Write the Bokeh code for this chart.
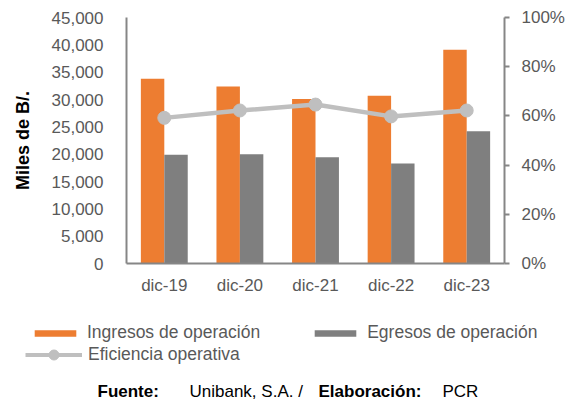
from bokeh.plotting import figure
from bokeh.layouts import column
from bokeh.models import (Range1d, FactorRange, LinearAxis, NumeralTickFormatter, FixedTicker,
                          Legend, LegendItem, Label, ColumnDataSource)
from bokeh.transform import dodge
from bokeh.embed import file_html
from bokeh.resources import INLINE

categories = ["dic-19", "dic-20", "dic-21", "dic-22", "dic-23"]
ingresos = [33800, 32400, 30100, 30700, 39100]
egresos = [19900, 20000, 19450, 18300, 24200]
eficiencia = [0.592, 0.622, 0.646, 0.598, 0.622]
left_ticks = [0, 5000, 10000, 15000, 20000, 25000, 30000, 35000, 40000, 45000]
right_ticks = [0, 0.2, 0.4, 0.6, 0.8, 1.0]

FONT = "Liberation Sans"
TXT = "#595959"
AX = "#868686"
ORANGE = "#ED7D31"
GRAY = "#7F7F7F"
LGRAY = "#BFBFBF"
TICK_FS = "17px"

src = ColumnDataSource(dict(cat=categories, ing=ingresos, egr=egresos, ef=eficiencia))
xr = FactorRange(*categories, range_padding=0)
yr = Range1d(0, 45000)


def draw_series(fig, visible=True):
    a = fig.vbar(x=dodge("cat", -0.155, range=xr), top="ing", width=0.31, source=src,
                 fill_color=ORANGE, line_color=None, visible=visible)
    b = fig.vbar(x=dodge("cat", 0.155, range=xr), top="egr", width=0.31, source=src,
                 fill_color=GRAY, line_color=None, visible=visible)
    c = fig.line(x="cat", y="ef", source=src, y_range_name="pct", line_color=LGRAY,
                 line_width=4.5 if visible else 4, visible=visible)
    d = fig.scatter(x="cat", y="ef", source=src, y_range_name="pct", size=13,
                    fill_color=LGRAY, line_color=LGRAY, visible=visible)
    return a, b, c, d


p = figure(width=575, height=300, x_range=xr, y_range=yr, output_backend="svg",
           toolbar_location=None, min_border_left=126, min_border_right=71,
           min_border_top=17, min_border_bottom=37)
p.extra_y_ranges = {"pct": Range1d(0, 1)}
p.outline_line_color = None
p.xgrid.visible = False
p.ygrid.visible = False
p.frame_align = False
draw_series(p)

for ax in (p.xaxis[0], p.yaxis[0]):
    ax.axis_line_color = AX
    ax.axis_line_width = 2
    ax.major_tick_line_color = None
    ax.minor_tick_line_color = None
    ax.major_label_text_font = FONT
    ax.major_label_text_color = TXT
    ax.major_label_text_font_size = TICK_FS

p.xaxis[0].major_label_standoff = 6
p.yaxis[0].ticker = FixedTicker(ticks=left_ticks)
p.yaxis[0].formatter = NumeralTickFormatter(format="0,0")
p.yaxis[0].major_label_standoff = 17
p.yaxis[0].axis_label = "Miles de B/."
p.yaxis[0].axis_label_text_font = FONT
p.yaxis[0].axis_label_text_font_style = "bold"
p.yaxis[0].axis_label_text_color = "black"
p.yaxis[0].axis_label_text_font_size = "18px"
p.yaxis[0].axis_label_standoff = 16

ra = LinearAxis(y_range_name="pct", ticker=FixedTicker(ticks=right_ticks),
                formatter=NumeralTickFormatter(format="0%"))
ra.axis_line_color = AX
ra.axis_line_width = 2
ra.major_tick_line_color = AX
ra.major_tick_line_width = 2
ra.major_tick_out = 5
ra.major_tick_in = 0
ra.minor_tick_line_color = None
ra.major_label_text_font = FONT
ra.major_label_text_color = TXT
ra.major_label_text_font_size = TICK_FS
ra.major_label_standoff = 12
p.add_layout(ra, "right")

# legend + source panel (series drawn hidden, used only for legend glyphs)
q = figure(width=575, height=104, x_range=xr, y_range=yr, output_backend="svg",
           toolbar_location=None, x_axis_type=None, y_axis_type=None, min_border=0)
q.extra_y_ranges = {"pct": Range1d(0, 1)}
q.outline_line_color = None
q.xgrid.visible = False
q.ygrid.visible = False
q.frame_align = False
l_ing, l_egr, l_line, l_pt = draw_series(q, visible=False)

common = dict(label_text_font=FONT, label_text_color=TXT, label_text_font_size="17.5px",
              label_standoff=6, padding=0, margin=0,
              border_line_color=None, background_fill_alpha=0, label_height=20,
              inactive_fill_alpha=0)
leg1 = Legend(items=[LegendItem(label="Ingresos de operación", renderers=[l_ing]),
                     LegendItem(label="Egresos de operación", renderers=[l_egr])],
              location=(29, 61), orientation="horizontal", glyph_width=52, glyph_height=8,
              spacing=49, **common)
leg2 = Legend(items=[LegendItem(label="Eficiencia operativa", renderers=[l_line, l_pt])],
              location=(25, 37), orientation="horizontal", glyph_width=57, glyph_height=25,
              **common)
q.add_layout(leg1, "center")
q.add_layout(leg2, "center")

foot = [("Fuente:", 97, "bold"), ("Unibank, S.A. / ", 189, "normal"),
        ("Elaboración:", 318, "bold"), ("PCR", 442, "normal")]
for t, x, st in foot:
    q.add_layout(Label(x=x, y=13, x_units="screen", y_units="screen", text=t,
                       text_font=FONT, text_font_style=st, text_font_size="17px",
                       text_color="black", text_baseline="middle"))

open("out.html", "w").write(file_html(column(p, q), INLINE))
